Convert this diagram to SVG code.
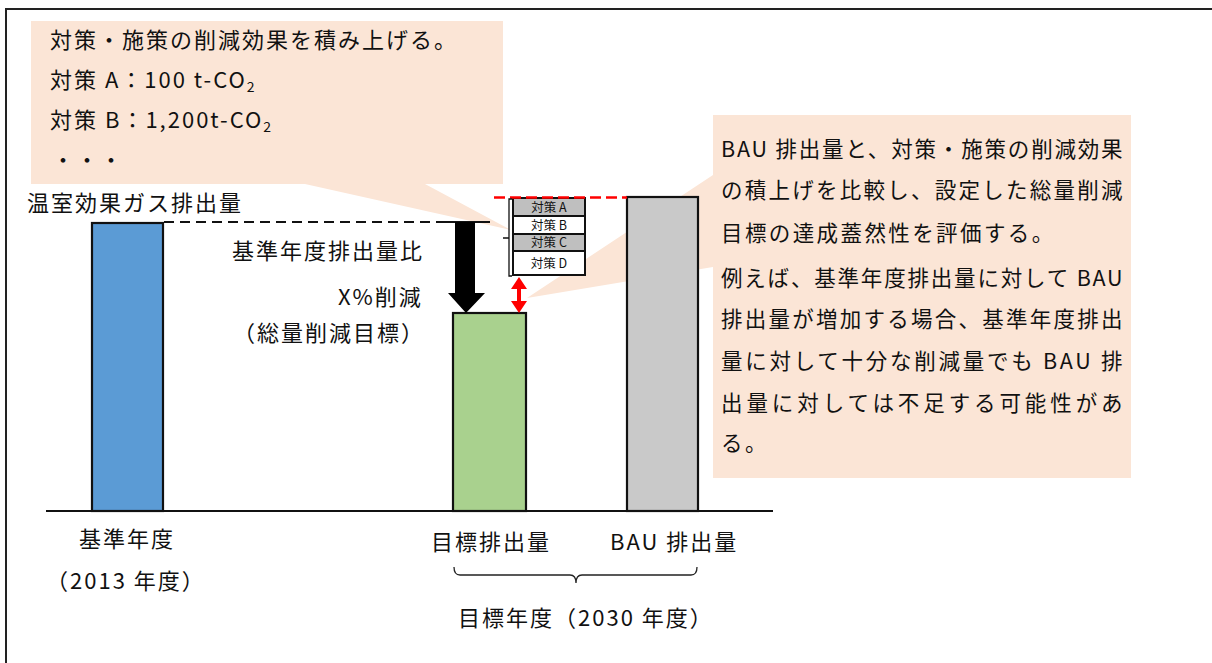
<svg xmlns="http://www.w3.org/2000/svg" width="1212" height="663" viewBox="0 0 1212 663">
<style>
  text { font-family: "Noto Sans CJK JP", "Noto Sans", sans-serif; fill: #111; }
  .t { font-size: 22px; letter-spacing: 2px; }
  .r { font-size: 21.5px; letter-spacing: 2.4px; }
  .s { font-size: 12.5px; text-anchor: middle; }
  .callout { fill: #FBE5D6; }
  .bar { stroke: #111; stroke-width: 2.2; }
  .box { stroke: #111; stroke-width: 2; }
</style>
<rect x="0" y="0" width="1212" height="663" fill="#fff"/>
<rect x="6" y="9" width="1230" height="680" fill="none" stroke="#222" stroke-width="2"/>

<g id="callout-left">
  <path class="callout" d="M31,21 H503 V184 H425 L511,230 L305,184 H31 Z"/>
  <text class="t" x="50" y="48">対策・施策の削減効果を積み上げる。</text>
  <text class="t" x="50" y="88">対策 A：100 t-CO<tspan font-size="14" dy="4" letter-spacing="0">2</tspan></text>
  <text class="t" x="50" y="128">対策 B：1,200t-CO<tspan font-size="14" dy="4" letter-spacing="0">2</tspan></text>
  <text class="t" x="52" y="168">・・・</text>
</g>

<g id="callout-right">
  <path class="callout" d="M713,115 H1131 V478 H713 V267 L527,298 L713,175 Z"/>
  <text class="r" x="721" y="157" textLength="404" lengthAdjust="spacing">BAU 排出量と、対策・施策の削減効果</text>
  <text class="r" x="721" y="198" textLength="404" lengthAdjust="spacing">の積上げを比較し、設定した総量削減</text>
  <text class="r" x="721" y="241">目標の達成蓋然性を評価する。</text>
  <text class="r" x="721" y="286" textLength="404" lengthAdjust="spacing">例えば、基準年度排出量に対して BAU</text>
  <text class="r" x="721" y="327" textLength="404" lengthAdjust="spacing">排出量が増加する場合、基準年度排出</text>
  <text class="r" x="721" y="369" textLength="404" lengthAdjust="spacing">量に対して十分な削減量でも BAU 排</text>
  <text class="r" x="721" y="411" textLength="404" lengthAdjust="spacing">出量に対しては不足する可能性があ</text>
  <text class="r" x="721" y="451">る。</text>
</g>

<g id="label-y">
  <text class="t" x="27" y="211" letter-spacing="1.7">温室効果ガス排出量</text>
</g>

<g id="bar-base">
  <rect class="bar" x="92" y="223" width="71" height="288" fill="#5B9BD5"/>
</g>
<g id="bar-target">
  <rect class="bar" x="453" y="313" width="73" height="198" fill="#A9D18E"/>
</g>
<g id="bar-bau">
  <rect class="bar" x="627" y="197" width="71" height="314" fill="#C9C9C9"/>
</g>

<g id="stack">
  <rect class="box" x="513" y="198" width="72" height="18" fill="#BFBFBF"/>
  <rect class="box" x="513" y="216" width="72" height="18" fill="#FFFFFF"/>
  <rect class="box" x="513" y="234" width="72" height="17" fill="#BFBFBF"/>
  <rect class="box" x="513" y="251" width="72" height="24" fill="#FFFFFF"/>
  <text class="s" x="549" y="212">対策 A</text>
  <text class="s" x="549" y="229.5">対策 B</text>
  <text class="s" x="549" y="246.5">対策 C</text>
  <text class="s" x="549" y="267.5">対策 D</text>
</g>

<g id="label-reduction">
  <text class="t" x="232" y="259">基準年度排出量比</text>
  <text class="t" x="338" y="305">X%削減</text>
  <text class="t" x="233" y="341">（総量削減目標）</text>
</g>

<g id="labels-bottom">
  <text class="t" x="79" y="547">基準年度</text>
  <text class="t" x="46" y="589">（2013 年度）</text>
  <text class="t" x="431" y="550">目標排出量</text>
  <text class="t" x="610" y="550">BAU 排出量</text>
  <text class="t" x="458" y="626">目標年度（2030 年度）</text>
</g>

<g id="connectors">
  <line x1="46" y1="511" x2="773" y2="511" stroke="#111" stroke-width="2.2"/>
  <line x1="164" y1="222" x2="490" y2="222" stroke="#111" stroke-width="2" stroke-dasharray="10 6"/>
  <line x1="437" y1="222" x2="490" y2="222" stroke="#111" stroke-width="2"/>
  <polygon points="455,222 475,222 475,293 485,293 466,313 448,293 455,293" fill="#000"/>
  <line x1="494" y1="197.5" x2="627" y2="197.5" stroke="#FF0000" stroke-width="2.5" stroke-dasharray="11 5"/>
  <polygon points="519,277 527,289 521,289 521,301 527,301 519,313 511,301 517,301 517,289 511,289" fill="#FF0000"/>
  <path d="M512,199 H509 V276 H512 M509,238 H503" fill="none" stroke="#111" stroke-width="1.3"/>
  <path d="M454,567 Q454,575 460,575 L570,575 Q576,575 576,583 Q576,575 582,575 L691,575 Q697,575 697,567" fill="none" stroke="#222" stroke-width="1.3"/>
</g>
</svg>
